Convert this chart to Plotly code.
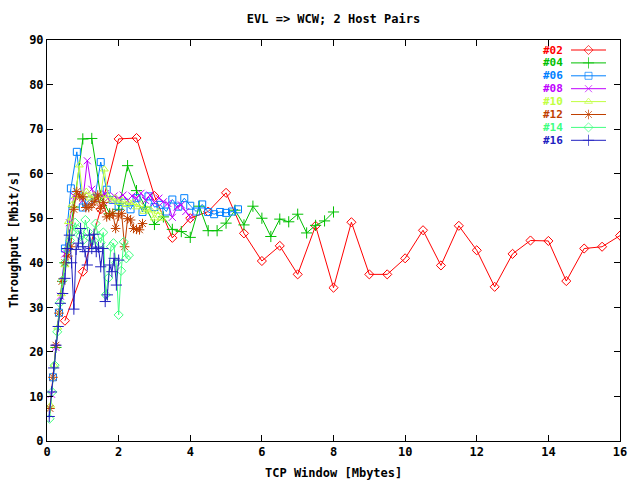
import plotly.graph_objects as go

# ---- data ----
x02 = [0.5, 1.0, 1.5, 2.0, 2.5, 3.0, 3.5, 4.0, 4.5, 5.0, 5.5, 6.0, 6.5, 7.0, 7.5, 8.0,
       8.5, 9.0, 9.5, 10.0, 10.5, 11.0, 11.5, 12.0, 12.5, 13.0, 13.5, 14.0, 14.5, 15.0, 15.5, 16.0]
y02 = [27.0, 38.0, 52.0, 67.8, 68.0, 55.0, 45.6, 50.0, 51.5, 55.7, 46.6, 40.4, 43.8, 37.4, 48.3, 34.4,
       49.1, 37.4, 37.4, 41.0, 47.3, 39.4, 48.3, 42.8, 34.6, 42.0, 45.0, 44.9, 35.9, 43.2, 43.6, 46.1]

x04 = [0.25, 0.5, 0.75, 1.0, 1.25, 1.5, 1.75, 2.0, 2.25, 2.5, 2.75, 3.0, 3.25, 3.5, 3.75, 4.0,
       4.25, 4.5, 4.75, 5.0, 5.25, 5.5, 5.75, 6.0, 6.25, 6.5, 6.75, 7.0, 7.25, 7.5, 7.75, 8.0]
y04 = [21.0, 40.0, 52.5, 67.8, 67.9, 55.0, 51.0, 52.0, 61.8, 56.2, 52.5, 48.6, 50.3, 47.5, 47.0, 45.7,
       52.7, 47.2, 47.2, 48.9, 51.8, 48.5, 52.7, 50.0, 45.9, 49.8, 49.2, 50.9, 46.7, 48.4, 49.4, 51.4]

x06 = [0.1667, 0.3333, 0.5, 0.6667, 0.8333, 1.0, 1.1667, 1.3333, 1.5, 1.6667, 1.8333, 2.0,
       2.1667, 2.3333, 2.5, 2.6667, 2.8333, 3.0, 3.1667, 3.3333, 3.5, 3.6667, 3.8333, 4.0,
       4.1667, 4.3333, 4.5, 4.6667, 4.8333, 5.0, 5.1667, 5.3333]
y06 = [14.3, 28.8, 43.2, 56.7, 64.9, 52.4, 54.0, 54.5, 62.6, 56.4, 54.1, 52.6,
       53.5, 52.0, 54.5, 51.4, 54.9, 52.5, 53.0, 51.5, 54.2, 52.6, 54.5, 52.8,
       51.5, 53.1, 51.4, 50.9, 51.4, 51.2, 51.5, 52.0]

x08 = [0.125, 0.25, 0.375, 0.5, 0.625, 0.75, 0.875, 1.0, 1.125, 1.25, 1.375, 1.5, 1.625, 1.75, 1.875, 2.0,
       2.125, 2.25, 2.375, 2.5, 2.625, 2.75, 2.875, 3.0, 3.125, 3.25, 3.375, 3.5, 3.625, 3.75, 3.875, 4.0]
y08 = [10.5, 21.0, 32.5, 42.0, 49.0, 55.0, 55.5, 54.0, 62.9, 56.5, 54.0, 55.0, 55.5, 54.0, 55.0, 54.5,
       55.2, 54.0, 55.0, 54.5, 55.6, 54.0, 55.2, 53.5, 54.5, 53.7, 53.3, 50.2, 52.5, 53.0, 51.5, 50.3]

x10 = [0.1, 0.2, 0.3, 0.4, 0.5, 0.6, 0.7, 0.8, 0.9, 1.0, 1.1, 1.2, 1.3, 1.4, 1.5, 1.6,
       1.7, 1.8, 1.9, 2.0, 2.1, 2.2, 2.3, 2.4, 2.5, 2.6, 2.7, 2.8, 2.9, 3.0, 3.1, 3.2]
y10 = [8.0, 17.0, 25.5, 33.0, 39.5, 49.2, 53.0, 55.0, 61.9, 55.0, 56.0, 54.5, 55.0, 54.0, 55.0, 61.0,
       55.0, 54.0, 54.5, 53.5, 54.0, 53.0, 53.5, 53.5, 52.5, 53.0, 51.5, 52.0, 51.8, 50.0, 51.5, 50.0]

x12 = [0.0833, 0.1667, 0.25, 0.3333, 0.4167, 0.5, 0.5833, 0.6667, 0.75, 0.8333, 0.9167, 1.0,
       1.0833, 1.1667, 1.25, 1.3333, 1.4167, 1.5, 1.5833, 1.6667, 1.75, 1.8333, 1.9167, 2.0,
       2.0833, 2.1667, 2.25, 2.3333, 2.4167, 2.5, 2.5833, 2.6667]
y12 = [7.3, 14.3, 21.5, 28.7, 35.8, 40.0, 41.5, 43.6, 52.0, 56.0, 54.8, 54.8,
       52.4, 52.4, 53.0, 53.8, 55.2, 52.2, 53.5, 50.3, 50.6, 51.1, 47.7, 50.5,
       51.1, 43.6, 49.9, 49.6, 47.7, 47.5, 47.4, 48.8]

x14 = [0.0714, 0.1429, 0.2143, 0.2857, 0.3571, 0.4286, 0.5, 0.5714, 0.6429, 0.7143, 0.7857, 0.8571,
       0.9286, 1.0, 1.0714, 1.1429, 1.2143, 1.2857, 1.3571, 1.4286, 1.5, 1.5714, 1.6429, 1.7143,
       1.7857, 1.8571, 1.9286, 2.0, 2.0714, 2.1429, 2.2143, 2.2857]
y14 = [5.0, 11.0, 17.0, 24.5, 31.0, 36.0, 40.0, 43.0, 45.0, 47.0, 49.0, 47.5,
       46.0, 45.0, 49.6, 47.0, 45.5, 44.0, 48.8, 46.0, 44.5, 46.8, 32.8, 36.6,
       43.6, 44.4, 40.0, 28.3, 38.2, 44.7, 41.0, 41.7]

x16 = [0.0625, 0.125, 0.1875, 0.25, 0.3125, 0.375, 0.4375, 0.5, 0.5625, 0.625, 0.6875, 0.75,
       0.8125, 0.875, 0.9375, 1.0, 1.0625, 1.125, 1.1875, 1.25, 1.3125, 1.375, 1.4375, 1.5,
       1.5625, 1.625, 1.6875, 1.75, 1.8125, 1.875, 1.9375, 2.0]
y16 = [5.5, 11.0, 16.4, 21.5, 25.7, 30.9, 33.1, 36.5, 43.2, 46.2, 40.0, 29.6,
       43.0, 44.4, 47.7, 43.6, 42.5, 39.5, 46.2, 43.2, 46.4, 42.5, 43.5, 39.1,
       43.2, 31.3, 32.8, 39.5, 38.0, 41.0, 35.0, 40.6]

names = ["#02", "#04", "#06", "#08", "#10", "#12", "#14", "#16"]
xs = [x02, x04, x06, x08, x10, x12, x14, x16]
ys = [y02, y04, y06, y08, y10, y12, y14, y16]
colors = ["#ff0000", "#00c000", "#0080ff", "#c000ff", "#c0ff40", "#c04000", "#40ff80", "#2020c0"]
symbols = ["diamond-open", "cross-thin-open", "square-open", "x-thin-open",
           "triangle-up-open", "asterisk-open", "diamond-open", "cross-thin-open"]
sizes = [7, 8, 7, 7, 7, 8, 7, 8]

FONT = "DejaVu Sans Mono"

fig = go.Figure()
for n, xv, yv, c, s, sz in zip(names, xs, ys, colors, symbols, sizes):
    fig.add_trace(go.Scatter(
        x=xv, y=yv, mode="lines+markers", name=n, showlegend=False,
        line=dict(color=c, width=1),
        marker=dict(symbol=s, size=sz, color=c, line=dict(color=c, width=1)),
    ))

# ---- legend (gnuplot style: label then sample) ----
row0 = (441 - 50) / 401.0
dy = 12.9 / 401.0
lx0, lx1 = (571 - 47) / 573.0, (606 - 47) / 573.0
tx = (565 - 47) / 573.0
for i, (n, c, s, sz) in enumerate(zip(names, colors, symbols, sizes)):
    ry = row0 - i * dy
    fig.add_trace(go.Scatter(
        x=[lx0, (lx0 + lx1) / 2, lx1], y=[ry, ry, ry], xaxis="x2", yaxis="y2",
        mode="lines+markers", showlegend=False, hoverinfo="skip",
        line=dict(color=c, width=1),
        marker=dict(symbol=s, size=[0, sz, 0], color=c, line=dict(color=c, width=1)),
    ))
    fig.add_annotation(x=tx, y=ry, xref="paper", yref="paper", text=n, showarrow=False,
                       xanchor="right", yanchor="middle",
                       font=dict(family=FONT, size=11, color=c, weight="bold"))

axis_common = dict(showline=True, linecolor="black", linewidth=1, mirror="ticks",
                   ticks="inside", ticklen=6, tickcolor="black", showgrid=False,
                   zeroline=False, tickfont=dict(family=FONT, size=12, color="black", weight="bold"))

fig.update_layout(
    width=640, height=480,
    margin=dict(l=47, r=20, t=40, b=39),
    paper_bgcolor="white", plot_bgcolor="white",
    showlegend=False,
    title=dict(text="EVL => WCW; 2 Host Pairs", x=(333.5 / 640), xanchor="center",
               y=1 - 19 / 480, yanchor="middle", yref="container",
               font=dict(family=FONT, size=12, color="black", weight="bold")),
    xaxis=dict(range=[0, 16], tickvals=[0, 2, 4, 6, 8, 10, 12, 14, 16], **axis_common),
    yaxis=dict(range=[0, 90], tickvals=[0, 10, 20, 30, 40, 50, 60, 70, 80, 90], **axis_common),
    xaxis2=dict(overlaying="x", range=[0, 1], visible=False),
    yaxis2=dict(overlaying="y", range=[0, 1], visible=False),
)

fig.add_annotation(x=0.5, y=(441 - 473) / 401.0, xref="paper", yref="paper",
                   text="TCP Window [Mbytes]", showarrow=False, xanchor="center", yanchor="middle",
                   font=dict(family=FONT, size=12, color="black", weight="bold"))
fig.add_annotation(x=(14 - 47) / 573.0, y=(441 - 240) / 401.0, xref="paper", yref="paper",
                   text="Throughput [Mbit/s]", showarrow=False, textangle=-90,
                   xanchor="center", yanchor="middle",
                   font=dict(family=FONT, size=12, color="black", weight="bold"))

fig.write_html("out.html", config={"displayModeBar": False},
               post_script="document.body.style.margin='0';document.body.style.padding='0';")
